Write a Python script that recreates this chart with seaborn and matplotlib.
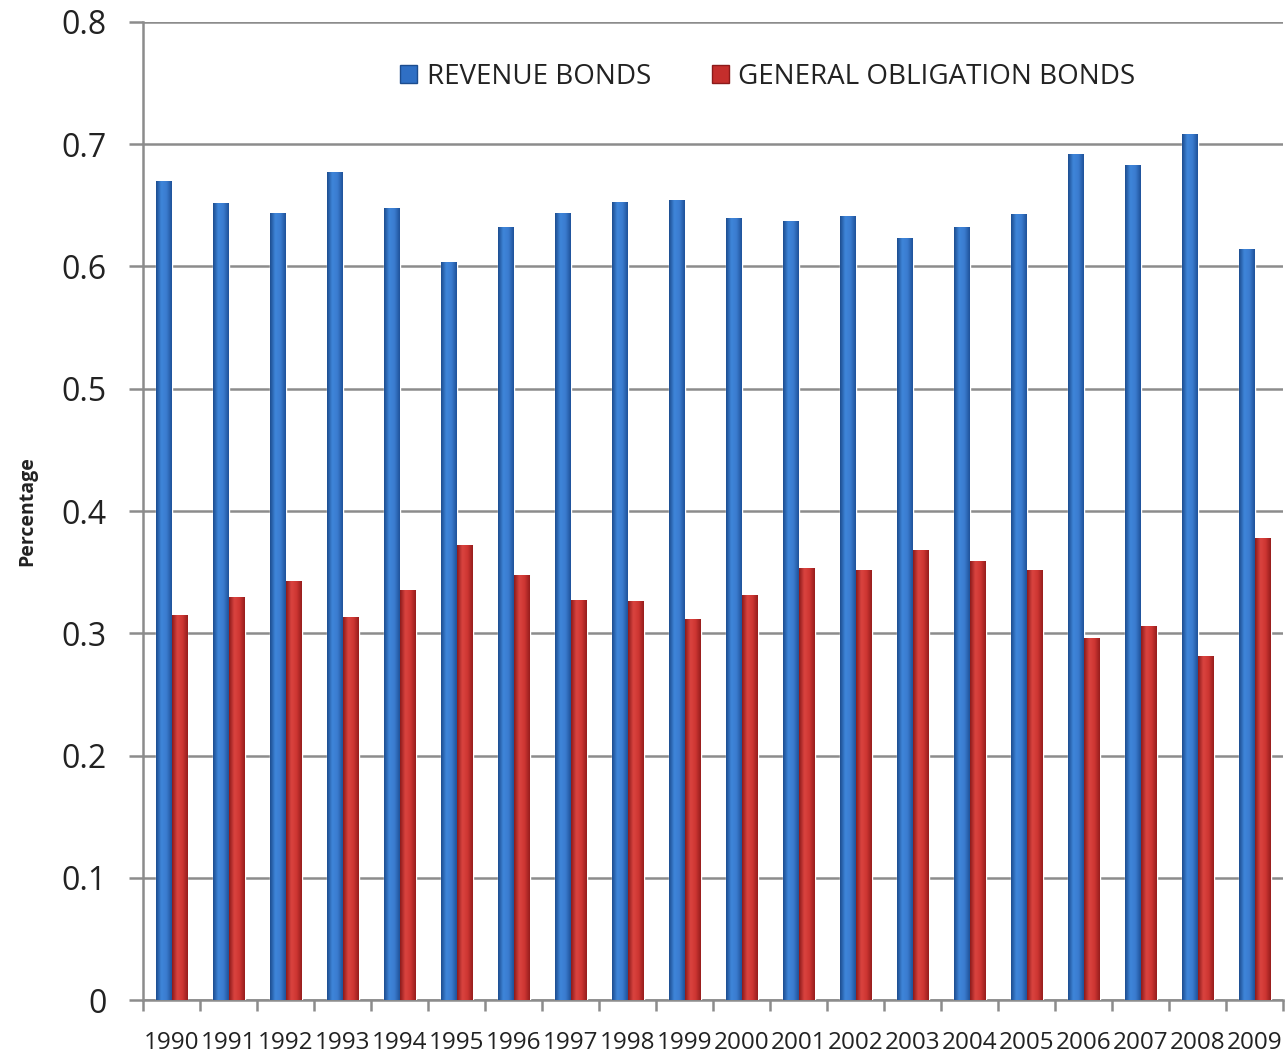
import numpy as np
import pandas as pd
import matplotlib
matplotlib.use("Agg")
import matplotlib.pyplot as plt
from matplotlib import font_manager
from matplotlib.ticker import FixedLocator
from matplotlib.patches import Patch
import seaborn as sns

years = [str(y) for y in range(1990, 2010)]
revenue = [0.670, 0.652, 0.644, 0.677, 0.648, 0.604, 0.632, 0.644, 0.653, 0.654,
           0.640, 0.637, 0.641, 0.623, 0.632, 0.643, 0.692, 0.683, 0.708, 0.614]
general = [0.315, 0.330, 0.343, 0.313, 0.335, 0.372, 0.348, 0.327, 0.326, 0.312,
           0.331, 0.353, 0.352, 0.368, 0.359, 0.352, 0.296, 0.306, 0.281, 0.378]
series_names = ["REVENUE BONDS", "GENERAL OBLIGATION BONDS"]
y_ticks = [0, 0.1, 0.2, 0.3, 0.4, 0.5, 0.6, 0.7, 0.8]
y_tick_labels = ["0", "0.1", "0.2", "0.3", "0.4", "0.5", "0.6", "0.7", "0.8"]

df = pd.DataFrame({
    "Year": years * 2,
    "Value": revenue + general,
    "Series": [series_names[0]] * len(years) + [series_names[1]] * len(years),
})

sns.set_theme(style="white")
avail = {f.name for f in font_manager.fontManager.ttflist}
def pick(*names):
    for n in names:
        if n in avail:
            return n
    return "DejaVu Sans"
narrow = pick("Liberation Sans Narrow", "Open Sans", "Liberation Sans")
main = pick("Open Sans", "Noto Sans", "DejaVu Sans")
plt.rcParams["font.family"] = [main, "DejaVu Sans"]

blue = "#2F6FC4"
red = "#C42E2C"

fig = plt.figure(figsize=(12.85, 10.57), dpi=100)
ax = fig.add_axes([0.1113, 0.0539, 0.8875, 0.9253])

sns.barplot(data=df, x="Year", y="Value", hue="Series", order=years,
            hue_order=series_names, palette=[blue, red], width=0.56,
            saturation=1, ax=ax, legend=False, zorder=3)

# cylinder-like shading on each bar
grad_cmaps = {
    blue: matplotlib.colors.LinearSegmentedColormap.from_list(
        "b", ["#1C4C8E", "#3F86DA", "#3A7BCF", "#1F5299"]),
    red: matplotlib.colors.LinearSegmentedColormap.from_list(
        "r", ["#8C1A1A", "#DA4440", "#CE3632", "#961D1D"]),
}
grad = np.linspace(0, 1, 64).reshape(1, -1)
for p in list(ax.patches):
    fc = matplotlib.colors.to_hex(p.get_facecolor())
    cmap = grad_cmaps[blue] if fc.lower() == blue.lower() else grad_cmaps[red]
    x0, w, h = p.get_x(), p.get_width(), p.get_height()
    im = ax.imshow(grad, cmap=cmap, aspect="auto", extent=(x0, x0 + w, 0, h),
                   zorder=4, interpolation="bicubic")
    im.set_clip_path(p)

ax.set_xlim(-0.5, len(years) - 0.5)
ax.set_ylim(0, 0.8)
ax.set_yticks(y_ticks)
ax.set_yticklabels(y_tick_labels)
ax.yaxis.grid(True, color="#8C8C8C", linewidth=1.8, zorder=0)
ax.set_axisbelow(True)

for s in ["top", "right"]:
    ax.spines[s].set_visible(False)
for s in ["left", "bottom"]:
    ax.spines[s].set_color("#8C8C8C")
    ax.spines[s].set_linewidth(1.8)

ax.tick_params(axis="y", which="major", length=10, width=1.8, color="#8C8C8C",
               labelsize=23, labelcolor="#222222", pad=16, left=True)
ax.set_xticks(range(len(years)))
ax.set_xticklabels(years, fontfamily=narrow)
ax.xaxis.set_minor_locator(FixedLocator(np.arange(-0.5, len(years) + 0.5, 1.0)))
ax.tick_params(axis="x", which="major", length=0, labelsize=17.5, labelcolor="#222222", pad=22)
ax.tick_params(axis="x", which="minor", length=8, width=1.8, color="#8C8C8C", bottom=True)

ax.set_xlabel("")
ax.set_ylabel("Percentage", fontsize=14, fontweight="bold", color="#222222")
ax.yaxis.set_label_coords(-0.093, 0.5)

handles = [Patch(facecolor=blue, edgecolor="#1C4C8E"), Patch(facecolor=red, edgecolor="#8C1A1A")]
ax.legend(handles, series_names, loc="center", bbox_to_anchor=(0.548, 0.944), ncol=2,
          frameon=False, handlelength=0.6, handleheight=0.6, handletextpad=0.35,
          columnspacing=2.2, prop={"family": narrow, "size": 20}, labelcolor="#222222")

fig.savefig("out.png", dpi=100)
